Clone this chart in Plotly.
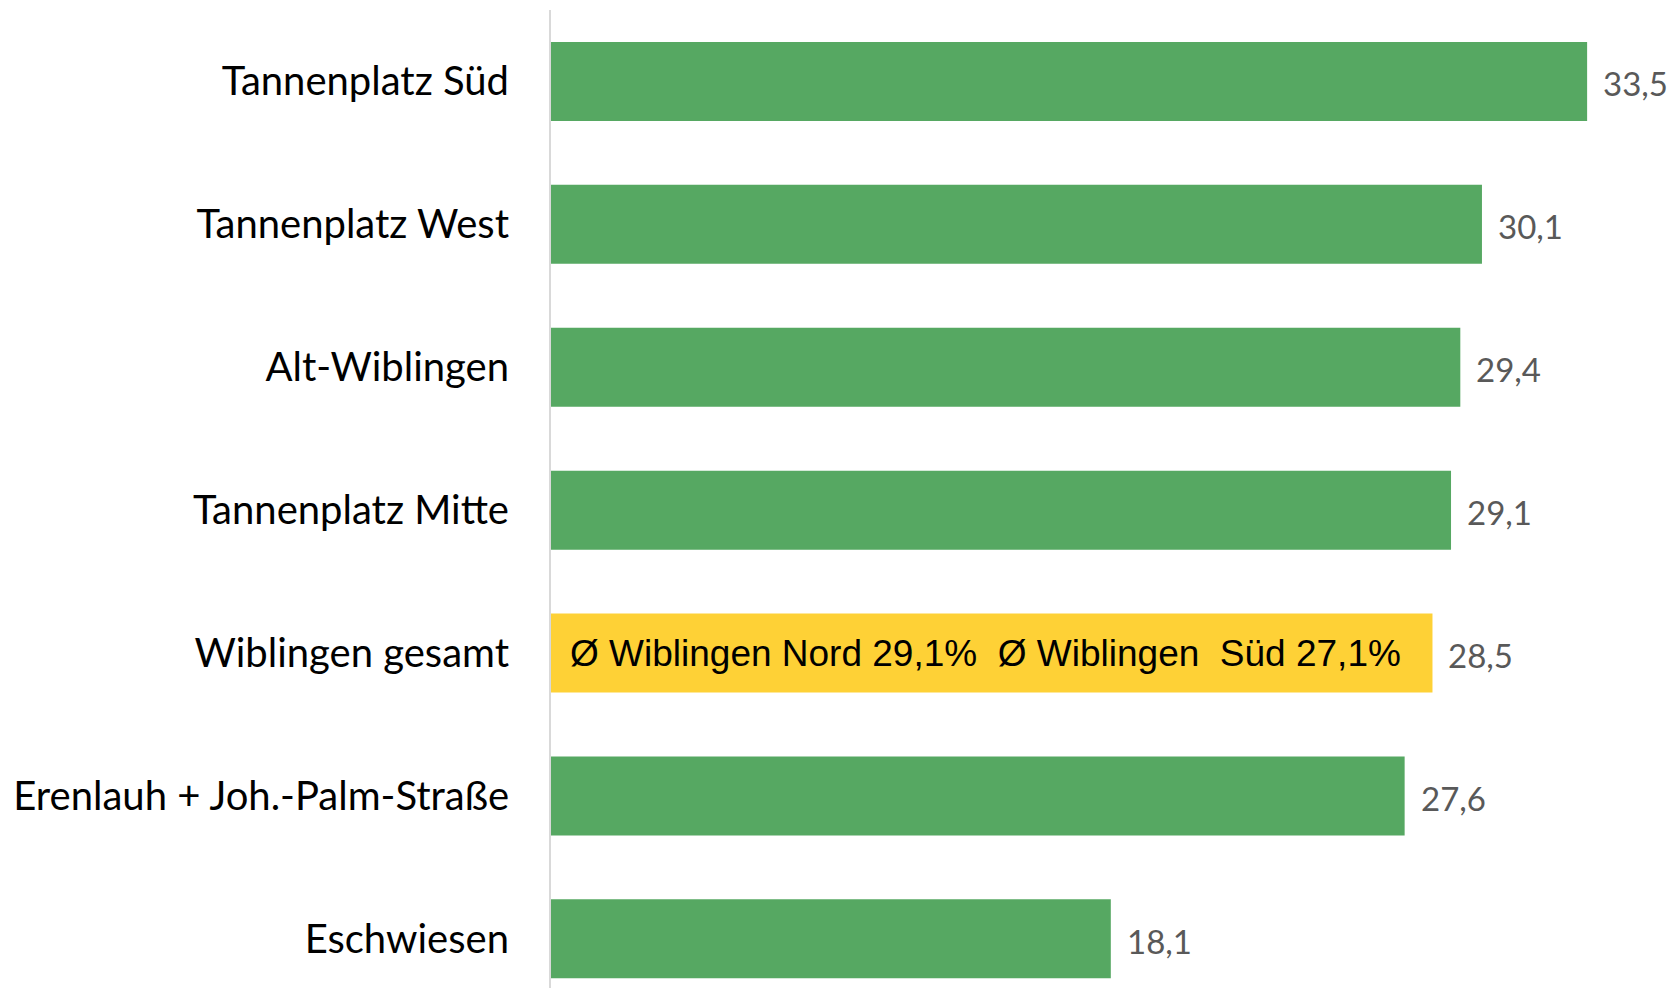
import plotly.graph_objects as go

categories = [
    "Tannenplatz Süd",
    "Tannenplatz West",
    "Alt-Wiblingen",
    "Tannenplatz Mitte",
    "Wiblingen gesamt",
    "Erenlauh + Joh.-Palm-Straße",
    "Eschwiesen",
]
values = [33.5, 30.1, 29.4, 29.1, 28.5, 27.6, 18.1]
highlight = "Wiblingen gesamt"
highlight_text = "Ø Wiblingen Nord 29,1%  Ø Wiblingen  Süd 27,1%"

GREEN = "#56A862"
YELLOW = "#FED136"

colors = [YELLOW if c == highlight else GREEN for c in categories]

fig = go.Figure()
fig.add_trace(go.Bar(
    x=values,
    y=categories,
    orientation="h",
    marker=dict(color=colors, line=dict(width=0)),
    hoverinfo="skip",
))

annotations = []
for c, v in zip(categories, values):
    annotations.append(dict(
        x=v, y=c, xref="x", yref="y",
        text=f"{v:.1f}".replace(".", ","),
        showarrow=False, xanchor="left", yanchor="middle",
        xshift=14, yshift=-2,
        font=dict(family="Lato, sans-serif", size=33, color="#595959"),
    ))
annotations.append(dict(
    x=0, y=highlight, xref="x", yref="y",
    text=highlight_text,
    showarrow=False, xanchor="left", yanchor="middle",
    xshift=17,
    font=dict(family="Liberation Sans, Arial, sans-serif", size=37, color="#000000"),
))

fig.update_layout(
    width=1675, height=988,
    margin=dict(l=543, r=0, t=2, b=0),
    paper_bgcolor="white", plot_bgcolor="white",
    bargap=0.447,
    showlegend=False,
    annotations=annotations,
    xaxis=dict(range=[0, 36.6], visible=False, fixedrange=True),
    yaxis=dict(
        type="category",
        categoryorder="array", categoryarray=categories,
        range=[6.4, -0.5],
        showgrid=False, zeroline=False,
        showline=True, linecolor="#D9D9D9", linewidth=2,
        ticks="", ticklabelstandoff=32,
        tickfont=dict(family="Lato, sans-serif", size=40, color="#000000"),
    ),
)

fig.write_html("out.html")
